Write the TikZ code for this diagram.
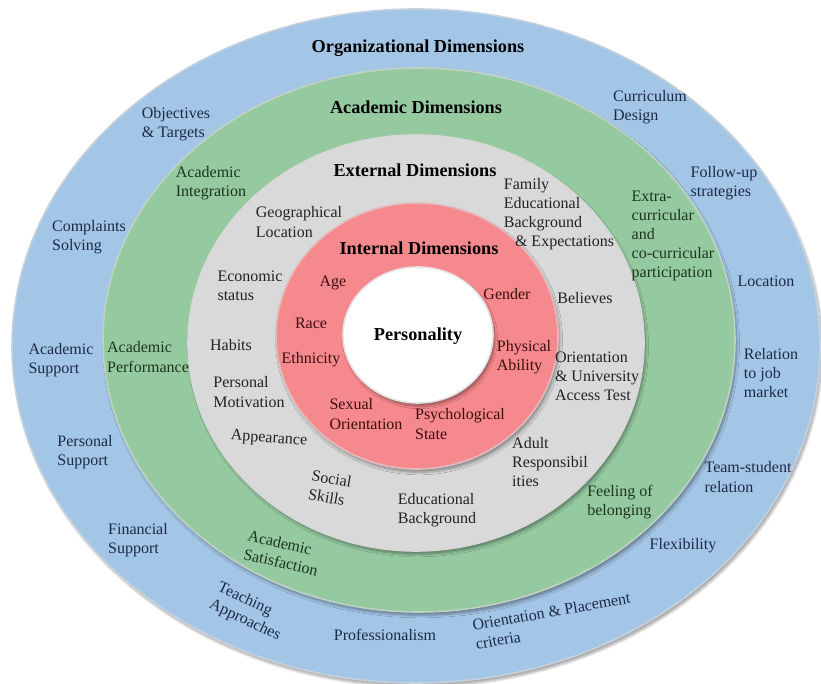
\documentclass[tikz,border=0pt]{standalone}
\usepackage{fontspec}
\setmainfont{Liberation Serif}
\usetikzlibrary{shadows.blur}
\definecolor{cblue}{HTML}{A4C6E6}
\definecolor{cgreen}{HTML}{95C9A0}
\definecolor{cgray}{HTML}{D9D9D9}
\definecolor{cpink}{HTML}{F6898D}
\definecolor{tblue}{HTML}{1C2A4A}
\definecolor{tgreen}{HTML}{1B3520}
\definecolor{tgray}{HTML}{222222}
\definecolor{tpink}{HTML}{3A0E0E}
\tikzset{
  ring/.style={draw=white!60!#1!90!black, line width=1.2pt, fill=#1,
    blur shadow={shadow xshift=1.5pt, shadow yshift=-2.5pt, shadow blur steps=6, shadow opacity=35}},
  lbl/.style={align=left, inner sep=0pt, font=\fontsize{12}{14.3}\selectfont},
  ttl/.style={inner sep=0pt, font=\bfseries\fontsize{13.7}{16}\selectfont, text=black},
  ob/.style={lbl, text=tblue},
  og/.style={lbl, text=tgreen},
  ox/.style={lbl, text=tgray},
  op/.style={lbl, text=tpink},
}
\begin{document}
\begin{tikzpicture}[x=0.75pt,y=-0.75pt]
\useasboundingbox (0,0) rectangle (821,684);
% rings
\path[ring=cblue] (416,346) ellipse [x radius=404, y radius=337];
\path[ring=cgreen] (419,340) ellipse [x radius=316, y radius=272];
\path[ring=cgray] (416,343) ellipse [x radius=228, y radius=208];
\path[ring=cpink] (417,336) ellipse [x radius=141, y radius=133];
\path[ring=white] (418,335) ellipse [x radius=75, y radius=68];

% titles
\node[ttl] (org) at (418,48) {Organizational Dimensions};
\node[ttl] (aca) at (416,107) {Academic Dimensions};
\node[ttl] (ext) at (415,170) {External Dimensions};
\node[ttl] (int) at (419,248) {Internal Dimensions};
\node[ttl] (per) at (418,336) {Personality};

% organizational
\node[ob] (o1) at (176,124) {Objectives\\\& Targets};
\node[ob] (o2) at (650,107) {Curriculum\\Design};
\node[ob] (o3) at (89,237) {Complaints\\Solving};
\node[ob] (o4) at (724,183) {Follow-up\\strategies};
\node[ob] (o5) at (766,281) {Location};
\node[ob] (o6) at (61,360) {Academic\\Support};
\node[ob] (o7) at (771,373) {Relation\\to job\\market};
\node[ob] (o8) at (85,452) {Personal\\Support};
\node[ob] (o9) at (748,477) {Team-student\\relation};
\node[ob] (o10) at (138,540) {Financial\\Support};
\node[ob] (o11) at (683,546) {Flexibility};
\node[ob, rotate=-25] (o12) at (249,612) {Teaching\\Approaches};
\node[ob] (o13) at (385,635) {Professionalism};
\node[ob, rotate=10] (o14) at (553,621) {Orientation \& Placement\\criteria};

% academic
\node[og] (a1) at (211,183) {Academic\\Integration};
\node[og] (a2) at (673,236) {Extra-\\curricular\\and\\co-curricular\\participation};
\node[og] (a3) at (148,357) {Academic\\Performance};
\node[og] (a4) at (620,502) {Feeling of\\belonging};
\node[og, rotate=-13] (a5) at (283,553) {Academic\\Satisfaction};

% external
\node[ox] (e1) at (559,214) {Family\\Educational\\Background\\\hspace*{0.7em}\& Expectations};
\node[ox] (e2) at (299,222) {Geographical\\Location};
\node[ox] (e3) at (250,286) {Economic\\status};
\node[ox] (e4) at (585,298) {Believes};
\node[ox] (e5) at (231,345) {Habits};
\node[ox] (e6) at (597,376) {Orientation\\\& University\\Access Test};
\node[ox] (e7) at (249,392) {Personal\\Motivation};
\node[ox, rotate=-4] (e8) at (269,439) {Appearance};
\node[ox] (e9) at (550,462) {Adult\\Responsibil\\ities};
\node[ox, rotate=-10] (e10) at (330,488) {Social\\Skills};
\node[ox] (e11) at (437,510) {Educational\\Background};

% internal
\node[op] (i1) at (333,283) {Age};
\node[op] (i2) at (507,294) {Gender};
\node[op] (i3) at (311,323) {Race};
\node[op] (i4) at (311,360) {Ethnicity};
\node[op] (i5) at (524,357) {Physical\\Ability};
\node[op] (i6) at (366,414) {Sexual\\Orientation};
\node[op] (i7) at (460,424) {Psychological\\State};
\end{tikzpicture}
\end{document}
